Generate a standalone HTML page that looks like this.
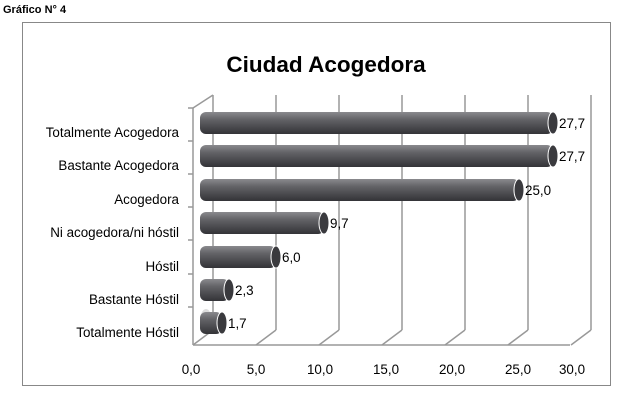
<!DOCTYPE html>
<html><head><meta charset="utf-8"><style>
body{margin:0;background:#fff;width:636px;height:402px;overflow:hidden}
</style></head><body>
<svg width="636" height="402" xmlns="http://www.w3.org/2000/svg" font-family="Liberation Sans, sans-serif">
<defs>
<linearGradient id="g" x1="0" y1="0" x2="0" y2="1">
<stop offset="0" stop-color="#8a8a8e"/><stop offset="0.35" stop-color="#626266"/><stop offset="1" stop-color="#333337"/>
</linearGradient>
</defs>
<text x="3" y="13" font-size="11" font-weight="bold">Gráfico N° 4</text>
<rect x="22.5" y="22.5" width="588" height="363" fill="#fff" stroke="#888" stroke-width="1"/>
<text x="326" y="72" font-size="22.5" font-weight="bold" text-anchor="middle">Ciudad Acogedora</text>
<g stroke="#999" stroke-width="1.5" fill="none">
<line x1="193" y1="108" x2="193" y2="345"/>
<line x1="193" y1="108" x2="213" y2="95"/>
<line x1="193" y1="345" x2="570" y2="345"/>
<line x1="213" y1="95" x2="213" y2="330"/><line x1="213" y1="330" x2="193" y2="345"/>
<line x1="276" y1="95" x2="276" y2="330"/><line x1="276" y1="330" x2="256" y2="345"/>
<line x1="339" y1="95" x2="339" y2="330"/><line x1="339" y1="330" x2="319" y2="345"/>
<line x1="402" y1="95" x2="402" y2="330"/><line x1="402" y1="330" x2="382" y2="345"/>
<line x1="465" y1="95" x2="465" y2="330"/><line x1="465" y1="330" x2="445" y2="345"/>
<line x1="528" y1="95" x2="528" y2="330"/><line x1="528" y1="330" x2="508" y2="345"/>
<line x1="591" y1="95" x2="591" y2="330"/><line x1="591" y1="330" x2="571" y2="345"/>
<line x1="188" y1="141" x2="193" y2="141"/><line x1="188" y1="174" x2="193" y2="174"/>
<line x1="188" y1="207" x2="193" y2="207"/><line x1="188" y1="240" x2="193" y2="240"/>
<line x1="188" y1="274" x2="193" y2="274"/><line x1="188" y1="307" x2="193" y2="307"/>
<line x1="188" y1="108" x2="193" y2="108"/>
</g>
<g font-size="13.4" fill="#000">
<g text-anchor="end">
<text x="179" y="137">Totalmente Acogedora</text>
<text x="179" y="170">Bastante Acogedora</text>
<text x="179" y="204">Acogedora</text>
<text x="179" y="237">Ni acogedora/ni hóstil</text>
<text x="179" y="271">Hóstil</text>
<text x="179" y="304">Bastante Hóstil</text>
<text x="179" y="337">Totalmente Hóstil</text>
</g>
<g text-anchor="middle">
<text x="191" y="374">0,0</text><text x="256" y="374">5,0</text><text x="320" y="374">10,0</text>
<text x="386" y="374">15,0</text><text x="452" y="374">20,0</text><text x="518" y="374">25,0</text><text x="572" y="374">30,0</text>
</g>
</g>
<g font-size="13.4">
<g><rect x="200" y="112" width="353" height="22" rx="6" fill="url(#g)"/><ellipse cx="553" cy="123" rx="5" ry="11" fill="#3a3a3e" stroke="#fff"/><text x="559" y="128">27,7</text></g>
<g><rect x="200" y="145" width="353" height="22" rx="6" fill="url(#g)"/><ellipse cx="553" cy="156" rx="5" ry="11" fill="#3a3a3e" stroke="#fff"/><text x="559" y="161">27,7</text></g>
<g><rect x="200" y="179" width="319" height="22" rx="6" fill="url(#g)"/><ellipse cx="519" cy="190" rx="5" ry="11" fill="#3a3a3e" stroke="#fff"/><text x="525" y="195">25,0</text></g>
<g><rect x="200" y="212" width="124" height="22" rx="6" fill="url(#g)"/><ellipse cx="324" cy="223" rx="5" ry="11" fill="#3a3a3e" stroke="#fff"/><text x="330" y="228">9,7</text></g>
<g><rect x="200" y="246" width="76" height="22" rx="6" fill="url(#g)"/><ellipse cx="276" cy="257" rx="5" ry="11" fill="#3a3a3e" stroke="#fff"/><text x="282" y="262">6,0</text></g>
<g><rect x="200" y="279" width="29" height="22" rx="6" fill="url(#g)"/><ellipse cx="229" cy="290" rx="5" ry="11" fill="#3a3a3e" stroke="#fff"/><text x="235" y="295">2,3</text></g>
<g><ellipse cx="206" cy="321" rx="6" ry="12" fill="#ddd"/><rect x="200" y="312" width="22" height="22" rx="6" fill="url(#g)"/><ellipse cx="222" cy="323" rx="5" ry="11" fill="#3a3a3e" stroke="#fff"/><text x="228" y="328">1,7</text></g>
</g>
</svg>
</body></html>
